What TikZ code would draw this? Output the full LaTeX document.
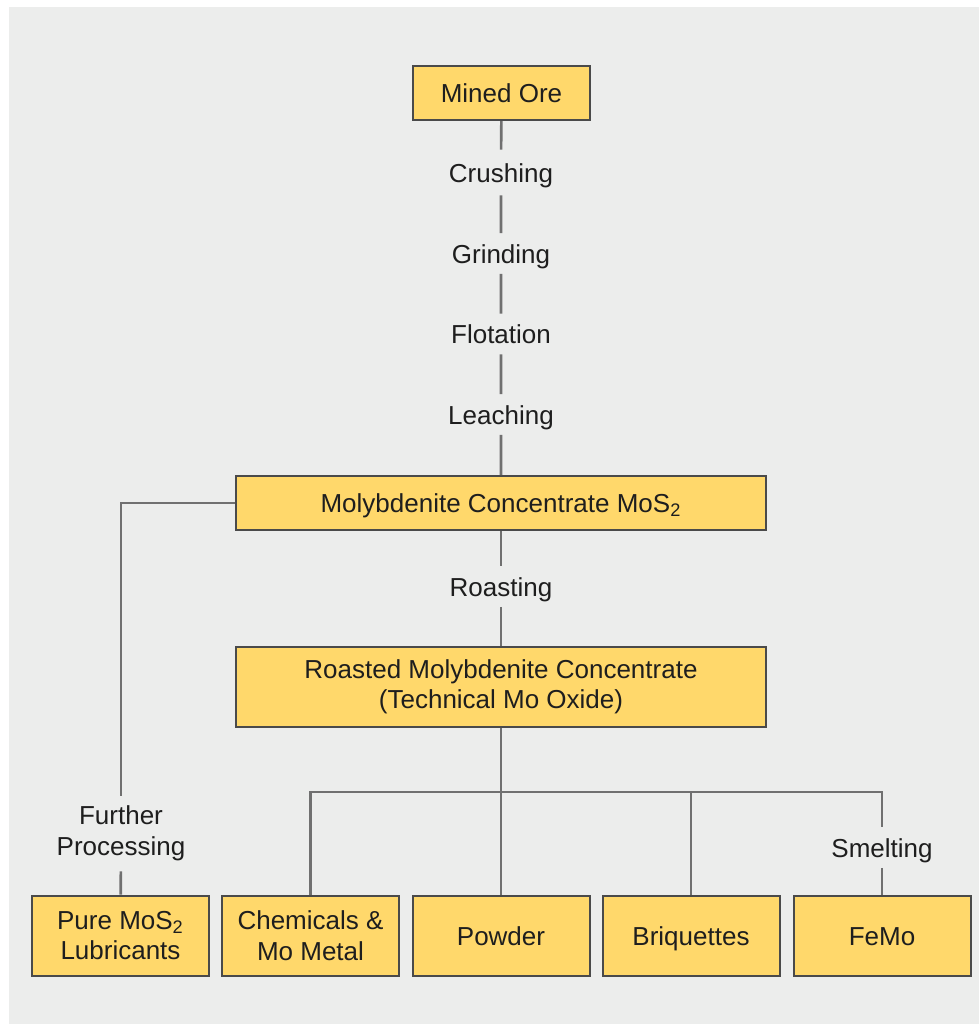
\documentclass[tikz,border=0pt]{standalone}
\usepackage{fontspec}
\setmainfont{Liberation Sans}
\usetikzlibrary{positioning}

\definecolor{panelgray}{HTML}{ECEDEC}
\definecolor{oreyellow}{HTML}{FFD86B}
\definecolor{boxline}{HTML}{4A4A4A}
\definecolor{linkgray}{HTML}{707070}
\definecolor{inkblack}{HTML}{1E1E1E}

\begin{document}
\begin{tikzpicture}[x=0.5pt, y=-0.5pt,
  every node/.style={font=\fontsize{13}{15.25}\selectfont, text=inkblack},
  oneline/.style={text height=10pt, text depth=0.5pt},
  stage/.style={rectangle, draw=boxline, fill=oreyellow, line width=1pt, align=center, inner sep=0pt},
  product/.style={stage, minimum width=88.5pt, minimum height=40pt},
  process/.style={oneline, align=center, inner xsep=2pt, inner ysep=4.75pt},
  link/.style={draw=linkgray, line width=1.3pt}]
\useasboundingbox (0,0) rectangle (979,1024);
\fill[panelgray] (9,7) rectangle (979,1024);

\node[stage, oneline, minimum width=88.5pt, minimum height=27pt] (ore) at (501.5,93) {Mined Ore};
\node[process, inner ysep=6pt] (crush) at (501,172.5) {Crushing};
\node[process] (grind) at (501,253.5) {Grinding};
\node[process] (flot) at (501,334) {Flotation};
\node[process] (leach) at (501,414.5) {Leaching};
\node[stage, oneline, minimum width=265pt, minimum height=27pt] (conc) at (501,503) {Molybdenite Concentrate MoS\textsubscript{2}};
\node[process] (roast) at (501,586.5) {Roasting};
\node[stage, minimum width=265pt, minimum height=40pt] (oxide) at (501,687) {Roasted Molybdenite Concentrate\\(Technical Mo Oxide)};

\node[align=center, inner xsep=2pt, inner ysep=5pt] (further) at (121,833.5) {Further\\Processing};
\node[process] (smelt) at (882,847.5) {Smelting};

\node[product] (pure) at (120.5,935.5) {Pure MoS\textsubscript{2}\\Lubricants};
\node[product] (chem) at (310.5,935.5) {Chemicals \&\\Mo Metal};
\node[product, oneline] (powder) at (501,935.5) {Powder};
\node[product, oneline] (briq) at (691,935.5) {Briquettes};
\node[product, oneline] (femo) at (882,935.5) {FeMo};

\draw[link] (ore) -- (crush) -- (grind) -- (flot) -- (leach) -- (conc);
\draw[link] (conc) -- (roast) -- (oxide);
\draw[link] (conc.west) -| (further);
\draw[link] (further) -- (pure);

\coordinate (split) at (501,792);
\draw[link] (oxide) -- (powder);
\draw[link] (chem) |- (split) -| (smelt);
\draw[link] (briq) -- (briq |- split);
\draw[link] (smelt) -- (femo);
\end{tikzpicture}
\end{document}
